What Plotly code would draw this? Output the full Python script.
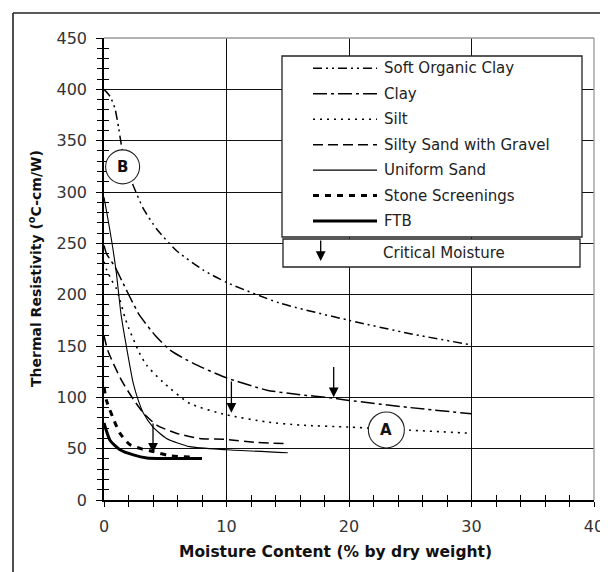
import plotly.graph_objects as go

# ---------------- data ----------------
x_ticks = [0, 10, 20, 30, 40]
y_ticks = [0, 50, 100, 150, 200, 250, 300, 350, 400, 450]

series_names = ["Soft Organic Clay", "Clay", "Silt", "Silty Sand with Gravel",
                "Uniform Sand", "Stone Screenings", "FTB"]

soft_clay_x = [0, 0.5, 0.9, 1.2, 1.5, 2.0, 2.5, 3.2, 4.3, 5.9, 8.1, 10, 14.3, 20, 25, 30]
soft_clay_y = [400, 393, 381, 362, 340, 318, 303, 284, 264, 243, 224, 212, 192, 175, 162, 151]

clay_x = [0, 0.2, 0.9, 1.44, 2.1, 2.9, 4.2, 5.4, 7.3, 10, 13.3, 15.7, 18.8, 20, 25, 30]
clay_y = [248, 240, 227, 214, 198, 180, 160, 146, 133, 119, 107, 103, 99, 97, 90, 84]

silt_x = [0, 0.22, 0.63, 1.0, 1.3, 1.7, 2.0, 2.9, 3.5, 4.8, 7, 10, 13.3, 16, 20, 25, 30]
silt_y = [232, 224, 214, 206, 195, 178, 168, 143, 131, 115, 94, 83, 76, 73, 71, 68, 65]

silty_sand_x = [0, 0.3, 0.76, 1.5, 2.4, 3.2, 4.3, 5.9, 7.8, 10, 12.5, 15]
silty_sand_y = [160, 146, 133, 115, 98, 85, 73, 65, 60, 59, 56, 55]

uniform_sand_x = [0, 0.3, 0.63, 1.0, 1.4, 2.0, 2.4, 2.8, 3.2, 4, 5.1, 7, 10, 15]
uniform_sand_y = [295, 275, 252, 222, 180, 138, 113, 97, 85, 71, 60, 52, 49, 46]

stone_x = [0, 0.2, 0.7, 1.3, 2.1, 3.0, 3.75, 5.4, 7]
stone_y = [110, 97, 81, 65, 54, 50, 48, 43, 42]

ftb_x = [0, 0.5, 1.3, 2.4, 3.5, 5, 8]
ftb_y = [75, 58, 49, 44, 41, 40.5, 40.5]

# critical moisture arrows
crit_x = [4.0, 10.4, 18.75]
crit_top = [76, 117, 131]
crit_tip = [46, 85, 100]

# circled labels
label_text = ["A", "B"]
label_x = [23.05, 1.52]
label_y = [68.2, 324.5]

# ---------------- styles ----------------
dashes = ["9px,4px,2px,4px,2px,4px", "14px,4px,3px,4px", "2px,5px", "10px,5px",
          "solid", "6px,6px", "solid"]
widths = [1.5, 1.5, 1.6, 1.5, 1.1, 3, 3]
xs = [soft_clay_x, clay_x, silt_x, silty_sand_x, uniform_sand_x, stone_x, ftb_x]
ys = [soft_clay_y, clay_y, silt_y, silty_sand_y, uniform_sand_y, stone_y, ftb_y]

# the page body has an 8px margin: the figure is sized to fill the rest
OFF = 8
W, H = 608 - OFF, 572 - OFF
ML, MR, MT, MB = 104 - OFF, 14, 38 - OFF, 72
PW = W - ML - MR
PH = H - MT - MB
X_RANGE = [0, 40]
Y_RANGE = [0, 450]
FONT = "DejaVu Sans"


def px_x(px):
    """window pixel -> paper x"""
    return (px - OFF - ML) / PW


def px_y(py):
    """window pixel -> paper y"""
    return (H - MB - (py - OFF)) / PH


fig = go.Figure()
for name, x, y, d, w in zip(series_names, xs, ys, dashes, widths):
    fig.add_trace(go.Scatter(x=x, y=y, mode="lines", name=name, showlegend=False,
                             hoverinfo="skip",
                             line=dict(color="black", width=w, dash=d,
                                       shape="spline", smoothing=0.6)))

# dummy trace so the overlay axes (inside ticks + grid) exist
fig.add_trace(go.Scatter(x=[None], y=[None], xaxis="x2", yaxis="y2",
                         showlegend=False, hoverinfo="skip"))

tick_font = dict(family=FONT, size=16, color="#333")

fig.update_layout(
    width=W, height=H,
    margin=dict(l=ML, r=MR, t=MT, b=MB, autoexpand=False),
    paper_bgcolor="white", plot_bgcolor="white",
    showlegend=False,
    xaxis=dict(range=X_RANGE, tickmode="array", tickvals=x_ticks, automargin=False,
               ticks="outside", ticklen=5, tickwidth=1.2, tickcolor="black",
               showgrid=False, zeroline=False, showline=True,
               linecolor="black", linewidth=1.5, tickfont=tick_font,
               ticklabelstandoff=6,
               minor=dict(tickmode="linear", tick0=0, dtick=2, ticks="outside",
                          ticklen=5, tickwidth=1.2, tickcolor="black",
                          showgrid=False)),
    xaxis2=dict(range=X_RANGE, overlaying="x", anchor="y", side="bottom",
                automargin=False,
                tickmode="array", tickvals=x_ticks[1:-1], ticks="inside",
                ticklen=5, tickwidth=1.2, tickcolor="black",
                showticklabels=False, showgrid=True, gridcolor="#111",
                gridwidth=1.4, zeroline=False, showline=False,
                minor=dict(tickmode="linear", tick0=0, dtick=2, ticks="inside",
                           ticklen=5, tickwidth=1.2, tickcolor="black",
                           showgrid=False)),
    yaxis=dict(range=Y_RANGE, tickmode="array", tickvals=y_ticks, automargin=False,
               ticks="outside", ticklen=6, tickwidth=1.2, tickcolor="black",
               showgrid=False, zeroline=False, showline=True,
               linecolor="black", linewidth=1.5, tickfont=tick_font,
               ticklabelstandoff=6,
               minor=dict(tickmode="linear", tick0=0, dtick=10, ticks="outside",
                          ticklen=5, tickwidth=1.2, tickcolor="black",
                          showgrid=False)),
    yaxis2=dict(range=Y_RANGE, overlaying="y", anchor="x", side="left",
                automargin=False,
                tickmode="array", tickvals=y_ticks[1:-1], ticks="inside",
                ticklen=6, tickwidth=1.2, tickcolor="black",
                showticklabels=False, showgrid=True, gridcolor="#111",
                gridwidth=1.4, zeroline=False, showline=False,
                minor=dict(tickmode="linear", tick0=0, dtick=10, ticks="inside",
                           ticklen=5, tickwidth=1.2, tickcolor="black",
                           showgrid=False)),
)

shapes = []
annotations = []

# gray top/right border of plot area
shapes.append(dict(type="line", xref="paper", yref="paper", x0=0, x1=1, y0=1, y1=1,
                   line=dict(color="#999", width=1.3)))
shapes.append(dict(type="line", xref="paper", yref="paper", x0=1, x1=1, y0=0, y1=1,
                   line=dict(color="#999", width=1.3)))

# outer frame (runs off the bottom edge of the picture)
fl, fr, ft, fb = px_x(13), px_x(604), px_y(13), px_y(600)
for x0, y0, x1, y1 in [(fl, fb, fl, ft), (fl, ft, fr, ft), (fr, ft, fr, fb)]:
    shapes.append(dict(type="line", xref="paper", yref="paper", layer="above",
                       x0=x0, y0=y0, x1=x1, y1=y1,
                       line=dict(color="#222", width=1.6)))

# circled labels (white fill hides the curve behind them)
circle_r_px = [18, 17]
ux = PW / (X_RANGE[1] - X_RANGE[0])
uy = PH / (Y_RANGE[1] - Y_RANGE[0])
for t, cx, cy, r in zip(label_text, label_x, label_y, circle_r_px):
    shapes.append(dict(type="circle", xref="x", yref="y", layer="above",
                       x0=cx - r / ux, x1=cx + r / ux, y0=cy - r / uy, y1=cy + r / uy,
                       fillcolor="white", line=dict(color="#222", width=1.1)))
    annotations.append(dict(x=cx, y=cy, xref="x", yref="y", text="<b>%s</b>" % t,
                            showarrow=False, xanchor="center", yanchor="middle",
                            font=dict(family=FONT, size=15, color="#111")))

# legend box
shapes.append(dict(type="rect", xref="paper", yref="paper", layer="above",
                   x0=px_x(282), x1=px_x(582), y0=px_y(237), y1=px_y(56),
                   fillcolor="white", line=dict(color="#222", width=1.3)))
shapes.append(dict(type="rect", xref="paper", yref="paper", layer="above",
                   x0=px_x(283), x1=px_x(580), y0=px_y(267), y1=px_y(239),
                   fillcolor="white", line=dict(color="#222", width=1.3)))
row0, row_step = 68.3, 25.45
for i, (name, d, w) in enumerate(zip(series_names, dashes, widths)):
    ry = px_y(row0 + i * row_step)
    shapes.append(dict(type="line", xref="paper", yref="paper", layer="above",
                       x0=px_x(313), x1=px_x(377), y0=ry, y1=ry,
                       line=dict(color="black", width=w, dash=d)))
    annotations.append(dict(x=px_x(382), y=ry, xref="paper", yref="paper",
                            xanchor="left", yanchor="middle", text=name,
                            showarrow=False, font=dict(family=FONT, size=15, color="#222")))

# legend entry for critical moisture
annotations.append(dict(x=px_x(320.7), y=px_y(261), xref="paper", yref="paper",
                        ax=0, ay=-22, text="", showarrow=True, arrowhead=2,
                        arrowsize=1.5, arrowwidth=1.3, arrowcolor="black"))
annotations.append(dict(x=px_x(444), y=px_y(252.5), xref="paper", yref="paper",
                        text="Critical Moisture", showarrow=False,
                        xanchor="center", yanchor="middle",
                        font=dict(family=FONT, size=15, color="#222")))

# critical moisture arrows on the chart
for cx, top, tip in zip(crit_x, crit_top, crit_tip):
    annotations.append(dict(x=cx, y=tip, xref="x", yref="y", ax=cx, ay=top,
                            axref="x", ayref="y", text="", showarrow=True,
                            arrowhead=2, arrowsize=1.5, arrowwidth=1.3,
                            arrowcolor="black", standoff=0))

# axis titles
annotations.append(dict(x=px_x(35), y=px_y(269), xref="paper", yref="paper",
                        text="<b>Thermal Resistivity (<sup>o</sup>C-cm/W)</b>",
                        textangle=-90, showarrow=False, xanchor="center", yanchor="middle",
                        font=dict(family=FONT, size=14, color="#111")))
annotations.append(dict(x=px_x(335), y=px_y(552), xref="paper", yref="paper",
                        text="<b>Moisture Content (% by dry weight)</b>",
                        showarrow=False, xanchor="center", yanchor="middle",
                        font=dict(family=FONT, size=15.5, color="#111")))

fig.update_layout(shapes=shapes, annotations=annotations)
fig.write_html("out.html")
